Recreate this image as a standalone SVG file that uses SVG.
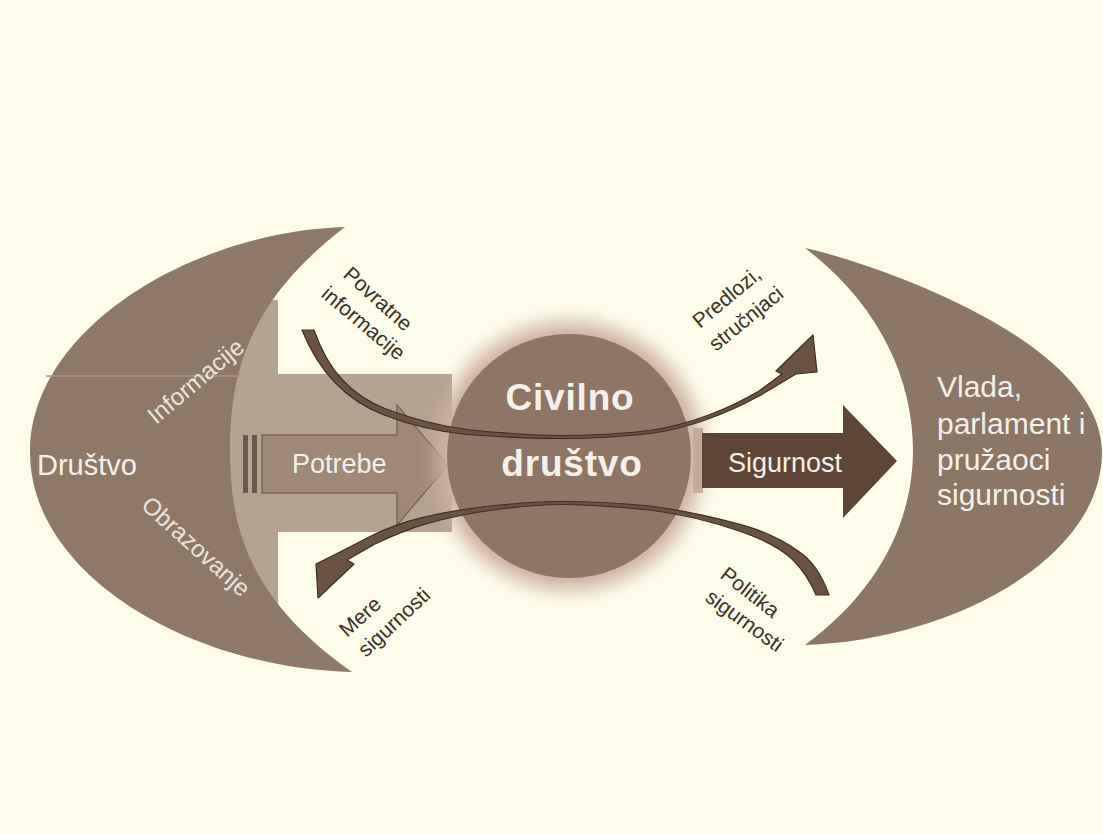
<svg xmlns="http://www.w3.org/2000/svg" width="1103" height="834" viewBox="0 0 1103 834">
<defs>
<style>
.lbl{font-family:"Liberation Sans",Arial,sans-serif;font-size:21px;fill:#3b3128}
.wt{font-family:"Liberation Sans",Arial,sans-serif;fill:#f5f0e8}
.wl{font-family:"Liberation Sans",Arial,sans-serif;font-size:24px;fill:#ece4da}
.curve{fill:#6b5343;stroke:#3e2e22;stroke-width:1.2;stroke-linejoin:round}
</style>
<filter id="glow" x="-30%" y="-30%" width="160%" height="160%">
<feGaussianBlur stdDeviation="9"/>
</filter>
</defs>
<rect width="1103" height="834" fill="#fdfbea"/>

<g id="band">
<rect x="190" y="300" width="88" height="322" fill="#b5a291"/>
<rect x="190" y="374" width="262" height="158" fill="#b5a291"/>
</g>

<g id="drustvo">
<path d="M345,227 C190,232 30,330 30,452 C30,575 190,668 352,672 C250,600 230,530 230,450 C230,370 250,300 345,227 Z" fill="#8e7868"/>
<line x1="46" y1="376" x2="240" y2="376" stroke="#a99584" stroke-width="1.5"/>
<text class="wt" x="37" y="475" font-size="29">Društvo</text>
<text class="wl" transform="translate(156,425) rotate(-40)">Informacije</text>
<text class="wl" transform="translate(140,507) rotate(42)">Obrazovanje</text>
</g>

<g id="potrebe">
<rect x="243" y="435" width="5" height="58" fill="#6e5a4a"/>
<rect x="252" y="435" width="5" height="58" fill="#6e5a4a"/>
<path d="M262,435 L397,435 L397,405 L448,465 L397,525 L397,493 L262,493 Z" fill="#9f8a78" stroke="#7d6858" stroke-width="1.5"/>
<text class="wt" x="292" y="473" font-size="27">Potrebe</text>
</g>

<g id="civilno">
<circle cx="569" cy="456" r="134" fill="#cdb1a0" filter="url(#glow)"/>
<circle cx="569" cy="456" r="122" fill="#8f7565"/>
<text class="wt" x="570" y="410" font-size="37" font-weight="bold" text-anchor="middle" letter-spacing="0.8">Civilno</text>
<text class="wt" x="572" y="476" font-size="37" font-weight="bold" text-anchor="middle" letter-spacing="0.8">društvo</text>
</g>

<g id="sigurnost">
<rect x="693" y="428" width="10" height="65" fill="#c2ad9c"/>
<path d="M702,433 L843,433 L843,405 L897,461 L843,518 L843,488 L702,488 Z" fill="#5e4535"/>
<text class="wt" x="728" y="472" font-size="27">Sigurnost</text>
</g>

<g id="vlada">
<path d="M805,248 C870,262 1102,340 1102,452 C1102,560 950,640 805,645 C880,590 913,520 913,450 C913,380 880,305 805,248 Z" fill="#8c7666"/>
<text class="wt" font-size="30"><tspan x="937" y="397">Vlada,</tspan><tspan x="937" y="434">parlament i</tspan><tspan x="937" y="470">pružaoci</tspan><tspan x="937" y="505">sigurnosti</tspan></text>
</g>

<g id="connectors">
<path class="curve" d="M314,330 C328,370 350,395 386,409 C410,418 440,426 467,429.5 C500,433 530,435.5 560,435.5 C590,435.5 620,434 650,430.5 C690,425 730,408 759,391 L782,374 L776,371 L813,335 L817,372 L796,374 L761,395 C730,412 690,428 650,433.5 C620,437 590,438.5 560,438.5 C530,438.5 500,437 467,434.5 C440,432 410,425 384,415 C345,400 318,370 302,330 Z"/>
<path class="curve" d="M829,595 C822,575 812,560 798,551 C780,538 760,530 741,524.7 C710,516 680,510 650,506 C620,503 590,501.5 560,501.5 C540,501.5 520,503 500,505 C470,508 445,512 422,517.6 C400,523 385,529 371,536 L340,552 L316,564 L318,598 L354,564 L347,560 L375,544 C390,537 405,530 424,524.4 C446,518 470,513 500,509 C520,506.5 540,504.5 560,504.5 C590,504.5 620,507 650,510 C680,514 710,521 739,531 C760,538 780,548 792,559 C800,567 810,580 816,595 Z"/>
</g>

<g id="labels">
<text class="lbl" transform="translate(342,276) rotate(42)">Povratne</text>
<text class="lbl" transform="translate(320,296) rotate(40)">informacije</text>
<text class="lbl" transform="translate(700,329) rotate(-40)">Predlozi,</text>
<text class="lbl" transform="translate(716,352) rotate(-39)">stručnjaci</text>
<text class="lbl" transform="translate(347,638) rotate(-42)">Mere</text>
<text class="lbl" transform="translate(366,658) rotate(-43)">sigurnosti</text>
<text class="lbl" transform="translate(719,577) rotate(38)">Politika</text>
<text class="lbl" transform="translate(704,600) rotate(36)">sigurnosti</text>
</g>
</svg>
